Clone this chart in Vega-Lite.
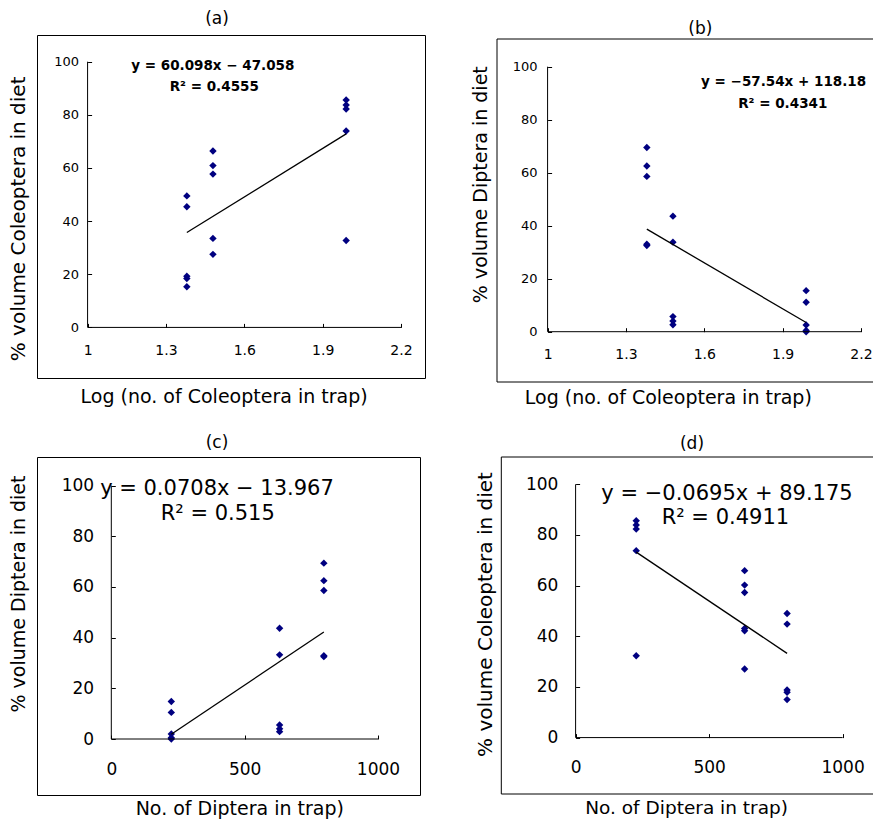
{
  "$schema": "https://vega.github.io/schema/vega-lite/v6.json",
  "padding": {"left": 8, "top": 9, "right": 0, "bottom": 0},
  "background": "white",
  "config": {
    "view": {"stroke": null},
    "axis": {"labelColor": "black", "tickColor": "black", "titleColor": "black", "labelFont": "DejaVu Sans", "titleFont": "DejaVu Sans", "titleFontWeight": "normal", "grid": false, "domain": false, "labelFlush": false, "labelOverlap": false, "tickSize": -4, "tickWidth": 1},
    "title": {"font": "DejaVu Sans", "fontWeight": "normal", "fontSize": 17, "color": "black", "frame": "group", "anchor": "middle", "baseline": "bottom"}
  },
  "datasets": {
    "a": [
      {"x": 1.38, "y": 49.5}, {"x": 1.38, "y": 45.4}, {"x": 1.38, "y": 19.3}, {"x": 1.38, "y": 18.4}, {"x": 1.38, "y": 15.3},
      {"x": 1.48, "y": 66.4}, {"x": 1.48, "y": 60.9}, {"x": 1.48, "y": 57.7}, {"x": 1.48, "y": 33.5}, {"x": 1.48, "y": 27.5},
      {"x": 1.99, "y": 85.6}, {"x": 1.99, "y": 83.7}, {"x": 1.99, "y": 82.2}, {"x": 1.99, "y": 73.9}, {"x": 1.99, "y": 32.7}
    ],
    "b": [
      {"x": 1.38, "y": 69.5}, {"x": 1.38, "y": 62.5}, {"x": 1.38, "y": 58.6}, {"x": 1.38, "y": 33.0}, {"x": 1.38, "y": 32.5},
      {"x": 1.48, "y": 43.6}, {"x": 1.48, "y": 33.8}, {"x": 1.48, "y": 5.7}, {"x": 1.48, "y": 4.0}, {"x": 1.48, "y": 2.6},
      {"x": 1.99, "y": 15.5}, {"x": 1.99, "y": 11.1}, {"x": 1.99, "y": 2.5}, {"x": 1.99, "y": 0.5}, {"x": 1.99, "y": 0}
    ],
    "c": [
      {"x": 225, "y": 14.8}, {"x": 225, "y": 10.5}, {"x": 225, "y": 2.0}, {"x": 225, "y": 0.5}, {"x": 225, "y": 0},
      {"x": 631, "y": 43.7}, {"x": 631, "y": 33.2}, {"x": 631, "y": 5.5}, {"x": 631, "y": 4.0}, {"x": 631, "y": 2.9},
      {"x": 797, "y": 69.4}, {"x": 797, "y": 62.5}, {"x": 797, "y": 58.6}, {"x": 797, "y": 32.9}, {"x": 797, "y": 32.5}
    ],
    "d": [
      {"x": 227, "y": 85.6}, {"x": 227, "y": 83.9}, {"x": 227, "y": 82.3}, {"x": 227, "y": 73.8}, {"x": 227, "y": 32.3},
      {"x": 633, "y": 65.9}, {"x": 633, "y": 60.2}, {"x": 633, "y": 57.3}, {"x": 633, "y": 43.1}, {"x": 633, "y": 42.2}, {"x": 633, "y": 27.1},
      {"x": 792, "y": 49.0}, {"x": 792, "y": 44.8}, {"x": 792, "y": 18.8}, {"x": 792, "y": 17.9}, {"x": 792, "y": 15.0}
    ]
  },
  "columns": 2,
  "spacing": {"row": 75, "column": 72},
  "bounds": "flush",
  "align": "all",
  "concat": [
    {
      "width": 388, "height": 343,
      "view": {"stroke": "black", "strokeWidth": 1},
      "title": {"text": "(a)", "dx": -14, "offset": 7},
      "layer": [
        {"data": {"name": "a"},
         "mark": {"type": "point", "shape": "diamond", "filled": true, "size": 55, "color": "#000080", "opacity": 1},
         "encoding": {
           "x": {"field": "x", "type": "quantitative", "scale": {"domain": [0.8063, 2.2919], "nice": false, "zero": false},
             "axis": {"title": "Log (no. of Coleoptera in trap)", "values": [1, 1.3, 1.6, 1.9, 2.2], "format": ".1~f", "offset": -50.6, "labelFontSize": 14, "labelPadding": 20.4, "titleFontSize": 19, "titleX": 186.6, "titleY": 60.5, "titleBaseline": "top", "titleAlign": "center"}},
           "y": {"field": "y", "type": "quantitative", "scale": {"domain": [-19.04, 110.05], "nice": false, "zero": false},
             "axis": {"title": "% volume Coleoptera in diet", "values": [0, 20, 40, 60, 80, 100], "offset": -50.6, "labelFontSize": 13, "labelPadding": 13, "titleFontSize": 20, "titleX": -69, "titleY": 183.4, "titleBaseline": "middle", "titleAlign": "center", "titleAngle": -90}}
         }},
        {"data": {"name": "a"}, "transform": [{"regression": "y", "on": "x"}],
         "mark": {"type": "line", "color": "black", "strokeWidth": 1.3},
         "encoding": {
           "x": {"field": "x", "type": "quantitative", "scale": {"domain": [0.8063, 2.2919], "nice": false, "zero": false}},
           "y": {"field": "y", "type": "quantitative", "scale": {"domain": [-19.04, 110.05], "nice": false, "zero": false}}}},
        {"data": {"values": [{}]}, "mark": {"type": "rule", "color": "black", "strokeWidth": 1},
         "encoding": {"x": {"datum": 1, "type": "quantitative"}, "x2": {"datum": 2.2}, "y": {"datum": 0, "type": "quantitative"}}},
        {"data": {"values": [{}]}, "mark": {"type": "rule", "color": "black", "strokeWidth": 1},
         "encoding": {"x": {"datum": 1, "type": "quantitative"}, "y": {"datum": 0, "type": "quantitative"}, "y2": {"datum": 100}}},
        {"data": {"values": [{}]}, "mark": {"type": "text", "text": "y = 60.098x − 47.058", "font": "DejaVu Sans", "fontSize": 13.5, "fontWeight": "bold", "color": "black"},
         "encoding": {"x": {"datum": 1.4794, "type": "quantitative"}, "y": {"datum": 98.4, "type": "quantitative"}}},
        {"data": {"values": [{}]}, "mark": {"type": "text", "text": "R² = 0.4555", "font": "DejaVu Sans", "fontSize": 13.5, "fontWeight": "bold", "color": "black"},
         "encoding": {"x": {"datum": 1.485, "type": "quantitative"}, "y": {"datum": 90.6, "type": "quantitative"}}}
      ]
    },
    {
      "width": 376, "height": 347,
      "title": {"text": "(b)", "dx": 15.3, "offset": -3},
      "layer": [
        {"data": {"name": "b"},
         "mark": {"type": "point", "shape": "diamond", "filled": true, "size": 55, "color": "#000080", "opacity": 1},
         "encoding": {
           "x": {"field": "x", "type": "quantitative", "scale": {"domain": [0.8063, 2.246], "nice": false, "zero": false},
             "axis": {"title": "Log (no. of Coleoptera in trap)", "values": [1, 1.3, 1.6, 1.9, 2.2], "format": ".1~f", "offset": -50.3, "labelFontSize": 14, "labelPadding": 20, "titleFontSize": 19, "titleX": 170.8, "titleY": 56.3, "titleBaseline": "top", "titleAlign": "center"}},
           "y": {"field": "y", "type": "quantitative", "scale": {"domain": [-18.98, 111.96], "nice": false, "zero": false},
             "axis": {"title": "% volume Diptera in diet", "values": [0, 20, 40, 60, 80, 100], "offset": -50.6, "labelFontSize": 13, "labelPadding": 14.6, "titleFontSize": 19, "titleX": -66.8, "titleY": 149.2, "titleBaseline": "middle", "titleAlign": "center", "titleAngle": -90}}
         }},
        {"data": {"name": "b"}, "transform": [{"regression": "y", "on": "x"}],
         "mark": {"type": "line", "color": "black", "strokeWidth": 1.3},
         "encoding": {
           "x": {"field": "x", "type": "quantitative", "scale": {"domain": [0.8063, 2.246], "nice": false, "zero": false}},
           "y": {"field": "y", "type": "quantitative", "scale": {"domain": [-18.98, 111.96], "nice": false, "zero": false}}}},
        {"data": {"values": [{}]}, "mark": {"type": "rule", "color": "black", "strokeWidth": 1},
         "encoding": {"x": {"datum": 1, "type": "quantitative"}, "x2": {"datum": 2.2}, "y": {"datum": 0, "type": "quantitative"}}},
        {"data": {"values": [{}]}, "mark": {"type": "rule", "color": "black", "strokeWidth": 1},
         "encoding": {"x": {"datum": 1, "type": "quantitative"}, "y": {"datum": 0, "type": "quantitative"}, "y2": {"datum": 100}}},
        {"data": {"values": [{}]}, "mark": {"type": "rule", "color": "black", "strokeWidth": 1},
         "encoding": {"x": {"datum": 0.8063, "type": "quantitative"}, "y": {"datum": -18.98, "type": "quantitative"}, "y2": {"datum": 110.45}}},
        {"data": {"values": [{}]}, "mark": {"type": "rule", "color": "black", "strokeWidth": 1},
         "encoding": {"x": {"datum": 0.8063, "type": "quantitative"}, "x2": {"datum": 2.246}, "y": {"datum": 110.45, "type": "quantitative"}}},
        {"data": {"values": [{}]}, "mark": {"type": "rule", "color": "black", "strokeWidth": 1},
         "encoding": {"x": {"datum": 0.8063, "type": "quantitative"}, "x2": {"datum": 2.246}, "y": {"datum": -18.98, "type": "quantitative"}}},
        {"data": {"values": [{}]}, "mark": {"type": "text", "text": "y = −57.54x + 118.18", "font": "DejaVu Sans", "fontSize": 13.5, "fontWeight": "bold", "color": "black"},
         "encoding": {"x": {"datum": 1.9036, "type": "quantitative"}, "y": {"datum": 94.3, "type": "quantitative"}}},
        {"data": {"values": [{}]}, "mark": {"type": "text", "text": "R² = 0.4341", "font": "DejaVu Sans", "fontSize": 13.5, "fontWeight": "bold", "color": "black"},
         "encoding": {"x": {"datum": 1.9005, "type": "quantitative"}, "y": {"datum": 85.8, "type": "quantitative"}}}
      ]
    },
    {
      "width": 383, "height": 338,
      "view": {"stroke": "black", "strokeWidth": 1},
      "title": {"text": "(c)", "dx": -11.5, "offset": 5.3},
      "layer": [
        {"data": {"name": "c"},
         "mark": {"type": "point", "shape": "diamond", "filled": true, "size": 55, "color": "#000080", "opacity": 1},
         "encoding": {
           "x": {"field": "x", "type": "quantitative", "scale": {"domain": [-278.6, 1157.5], "nice": false, "zero": false},
             "axis": {"title": "No. of Diptera in trap)", "values": [0, 500, 1000], "format": "d", "offset": -56, "labelFontSize": 17, "labelPadding": 26.3, "titleFontSize": 19, "titleX": 202.3, "titleY": 60.5, "titleBaseline": "top", "titleAlign": "center"}},
           "y": {"field": "y", "type": "quantitative", "scale": {"domain": [-22.1, 111.29], "nice": false, "zero": false},
             "axis": {"title": "% volume Diptera in diet", "values": [0, 20, 40, 60, 80, 100], "offset": -74.3, "labelFontSize": 17, "labelPadding": 21.7, "titleFontSize": 19, "titleX": -93, "titleY": 136.5, "titleBaseline": "middle", "titleAlign": "center", "titleAngle": -90}}
         }},
        {"data": {"name": "c"}, "transform": [{"regression": "y", "on": "x"}],
         "mark": {"type": "line", "color": "black", "strokeWidth": 1.3},
         "encoding": {
           "x": {"field": "x", "type": "quantitative", "scale": {"domain": [-278.6, 1157.5], "nice": false, "zero": false}},
           "y": {"field": "y", "type": "quantitative", "scale": {"domain": [-22.1, 111.29], "nice": false, "zero": false}}}},
        {"data": {"values": [{}]}, "mark": {"type": "rule", "color": "black", "strokeWidth": 1},
         "encoding": {"x": {"datum": 0, "type": "quantitative"}, "x2": {"datum": 1000}, "y": {"datum": 0, "type": "quantitative"}}},
        {"data": {"values": [{}]}, "mark": {"type": "rule", "color": "black", "strokeWidth": 1},
         "encoding": {"x": {"datum": 0, "type": "quantitative"}, "y": {"datum": 0, "type": "quantitative"}, "y2": {"datum": 100}}},
        {"data": {"values": [{}]}, "mark": {"type": "text", "text": "y = 0.0708x − 13.967", "font": "DejaVu Sans", "fontSize": 21, "color": "black"},
         "encoding": {"x": {"datum": 396.3, "type": "quantitative"}, "y": {"datum": 98.7, "type": "quantitative"}}},
        {"data": {"values": [{}]}, "mark": {"type": "text", "text": "R² = 0.515", "font": "DejaVu Sans", "fontSize": 21, "color": "black"},
         "encoding": {"x": {"datum": 399.3, "type": "quantitative"}, "y": {"datum": 88.8, "type": "quantitative"}}}
      ]
    },
    {
      "width": 376, "height": 337,
      "title": {"text": "(d)", "dx": 7, "offset": 3.6},
      "layer": [
        {"data": {"name": "d"},
         "mark": {"type": "point", "shape": "diamond", "filled": true, "size": 55, "color": "#000080", "opacity": 1},
         "encoding": {
           "x": {"field": "x", "type": "quantitative", "scale": {"domain": [-294.4, 1113.8], "nice": false, "zero": false},
             "axis": {"title": "No. of Diptera in trap)", "values": [0, 500, 1000], "format": "d", "offset": -56.4, "labelFontSize": 17, "labelPadding": 25.7, "titleFontSize": 18.5, "titleX": 189.1, "titleY": 60.4, "titleBaseline": "top", "titleAlign": "center"}},
           "y": {"field": "y", "type": "quantitative", "scale": {"domain": [-22.27, 110.77], "nice": false, "zero": false},
             "axis": {"title": "% volume Coleoptera in diet", "values": [0, 20, 40, 60, 80, 100], "offset": -78.6, "labelFontSize": 17, "labelPadding": 21.7, "titleFontSize": 20, "titleX": -90.3, "titleY": 157, "titleBaseline": "middle", "titleAlign": "center", "titleAngle": -90}}
         }},
        {"data": {"name": "d"}, "transform": [{"regression": "y", "on": "x"}],
         "mark": {"type": "line", "color": "black", "strokeWidth": 1.3},
         "encoding": {
           "x": {"field": "x", "type": "quantitative", "scale": {"domain": [-294.4, 1113.8], "nice": false, "zero": false}},
           "y": {"field": "y", "type": "quantitative", "scale": {"domain": [-22.27, 110.77], "nice": false, "zero": false}}}},
        {"data": {"values": [{}]}, "mark": {"type": "rule", "color": "black", "strokeWidth": 1},
         "encoding": {"x": {"datum": 0, "type": "quantitative"}, "x2": {"datum": 1000}, "y": {"datum": 0, "type": "quantitative"}}},
        {"data": {"values": [{}]}, "mark": {"type": "rule", "color": "black", "strokeWidth": 1},
         "encoding": {"x": {"datum": 0, "type": "quantitative"}, "y": {"datum": 0, "type": "quantitative"}, "y2": {"datum": 100}}},
        {"data": {"values": [{}]}, "mark": {"type": "rule", "color": "black", "strokeWidth": 1},
         "encoding": {"x": {"datum": -278.3, "type": "quantitative"}, "y": {"datum": -22.27, "type": "quantitative"}, "y2": {"datum": 110.77}}},
        {"data": {"values": [{}]}, "mark": {"type": "rule", "color": "black", "strokeWidth": 1},
         "encoding": {"x": {"datum": -278.3, "type": "quantitative"}, "x2": {"datum": 1113.8}, "y": {"datum": 110.77, "type": "quantitative"}}},
        {"data": {"values": [{}]}, "mark": {"type": "rule", "color": "black", "strokeWidth": 1},
         "encoding": {"x": {"datum": -278.3, "type": "quantitative"}, "x2": {"datum": 1113.8}, "y": {"datum": -22.27, "type": "quantitative"}}},
        {"data": {"values": [{}]}, "mark": {"type": "text", "text": "y = −0.0695x + 89.175", "font": "DejaVu Sans", "fontSize": 21, "color": "black"},
         "encoding": {"x": {"datum": 567, "type": "quantitative"}, "y": {"datum": 96.2, "type": "quantitative"}}},
        {"data": {"values": [{}]}, "mark": {"type": "text", "text": "R² = 0.4911", "font": "DejaVu Sans", "fontSize": 21, "color": "black"},
         "encoding": {"x": {"datum": 561, "type": "quantitative"}, "y": {"datum": 86.7, "type": "quantitative"}}}
      ]
    }
  ]
}
